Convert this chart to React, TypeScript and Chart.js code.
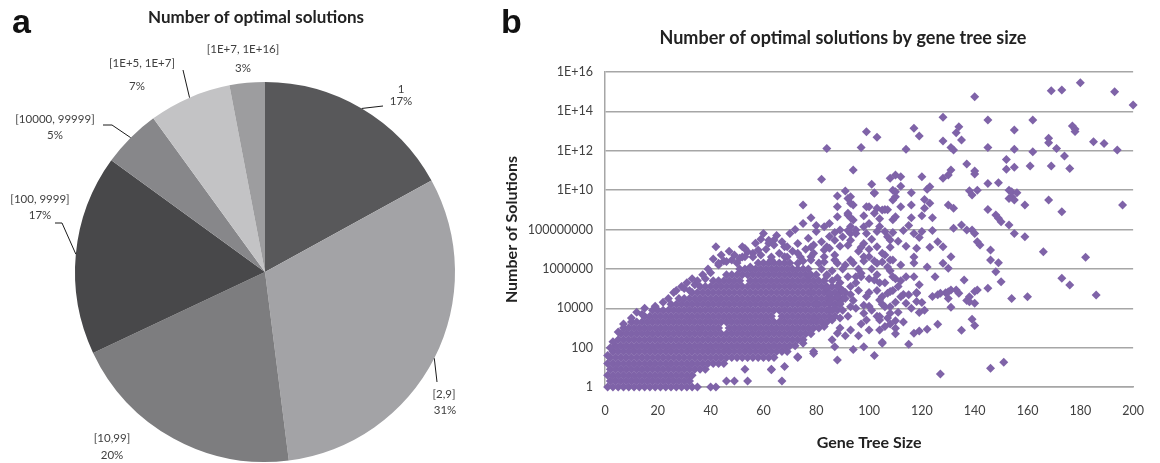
import React, { useEffect, useRef } from "react";
import { Chart, registerables } from "chart.js";

Chart.register(...registerables);

// ---------- Panel a: pie ----------
const PIE_TITLE = "Number of optimal solutions";
const PIE_LABELS = ["1", "[2,9]", "[10,99]", "[100, 9999]", "[10000, 99999]", "[1E+5, 1E+7]", "[1E+7, 1E+16]"];
const PIE_PERCENT = [17, 31, 20, 17, 5, 7, 3];
const PIE_COLORS = ["#58585a", "#a3a3a6", "#7d7d7f", "#48484a", "#87878a", "#c3c3c5", "#9d9d9f"];

// ---------- Panel b: scatter ----------
const SCATTER_TITLE = "Number of optimal solutions by gene tree size";
const X_TITLE = "Gene Tree Size";
const Y_TITLE = "Number of Solutions";
const X_TICKS = [0, 20, 40, 60, 80, 100, 120, 140, 160, 180, 200];
const Y_TICK_VALUES = [1, 1e2, 1e4, 1e6, 1e8, 1e10, 1e12, 1e14, 1e16];
const Y_TICK_LABELS = ["1", "100", "10000", "1000000", "100000000", "1E+10", "1E+12", "1E+14", "1E+16"];

// Dense core of the cloud: [log10(number of solutions), gene tree sizes in that row]
const CORE_ROWS: [number, number[]][] = [
  [0.0, [1,3,5,7,9,11,13,15,17,19,21,23,25,27,29,31,33,35,40,42]],
  [0.3, [2,4,6,8,10,12,14,16,18,20,22,24,26,28,30,32,46,49,54,67]],
  [0.6, [1,3,5,7,9,11,13,15,17,19,21,23,25,27,29,31,33]],
  [0.9, [2,4,6,8,10,12,14,16,18,20,22,24,26,28,30,32,34,36,38,53,63]],
  [1.2, [1,3,5,7,9,11,13,15,17,19,21,23,25,27,29,31,33,35,37,39,41,43,45]],
  [1.5, [2,4,6,8,10,12,14,16,18,20,22,24,26,28,30,32,34,36,38,40,42,44,46,48,50,52,54,56,58,60,62,64,73]],
  [1.8, [3,5,7,9,11,13,15,17,19,21,23,25,27,29,31,33,35,37,39,41,43,45,47,49,51,53,55,57,59,61,63,65,67,69,79]],
  [2.1, [4,6,8,10,12,14,16,18,20,22,24,26,28,30,32,34,36,38,40,42,44,46,48,50,52,54,56,58,60,62,64,66,68,70,72]],
  [2.4, [5,7,9,11,13,15,17,19,21,23,25,27,29,31,33,35,37,39,41,43,45,47,49,51,53,55,57,59,61,63,65,67,69,71,73,75]],
  [2.7, [6,8,10,12,14,16,18,20,22,24,26,28,30,32,34,36,38,40,42,44,46,48,50,52,54,56,58,60,62,64,66,68,70,72,74,76,78]],
  [3.0, [7,9,11,13,15,17,19,21,23,25,27,29,31,33,35,37,39,41,43,47,49,51,53,55,57,59,61,63,65,67,69,71,73,75,77,79,81]],
  [3.3, [10,12,14,16,18,20,22,24,26,28,30,32,34,36,38,40,42,44,46,48,50,52,54,56,58,60,62,64,66,68,70,72,74,76,78,80,82,84]],
  [3.6, [15,17,19,21,23,25,27,29,31,33,35,37,39,41,43,45,47,49,51,53,55,57,59,61,63,67,69,71,73,75,77,79,81,83,85,87]],
  [3.9, [20,22,24,26,28,30,32,34,36,38,40,42,44,46,48,50,52,54,56,58,60,62,64,66,68,70,72,74,76,78,80,82,84,86,88]],
  [4.2, [25,27,29,31,33,35,37,39,41,43,45,47,49,51,53,55,57,59,61,63,65,67,69,71,73,75,77,79,81,83,85,87,89]],
  [4.5, [28,30,32,34,36,38,40,42,44,46,48,50,52,54,56,58,60,62,64,66,68,70,72,74,76,78,80,82,84,86,88,90]],
  [4.8, [33,35,37,39,41,43,45,47,49,51,53,55,57,59,61,63,65,67,69,71,73,75,77,79,81,83,85,87,89]],
  [5.1, [36,38,40,42,44,46,48,50,52,54,56,58,60,62,64,66,68,70,72,74,76,78,80,82,84,86]],
  [5.4, [41,43,45,47,49,51,55,57,59,61,63,65,67,69,71,73,75,77,79,81,83]],
  [5.7, [46,48,50,52,54,56,58,60,62,64,66,68,70,72,74,76,78,80]],
  [6.0, [51,53,55,57,59,61,63,65,67,69,71,73,75,77]],
  [6.3, [58,60,62,64,66,68,70]],
];

// Scattered points: [gene tree size, log10(number of solutions)]
const FRINGE_POINTS: [number, number][] = [
  [1,1.6],[2,2.0],[3,2.3],[5,2.8],[7,3.2],[10,3.5],[14,3.7],[18,3.9],[22,4.3],[26,4.8],[29,5.1],[30,5.0],[32,4.9],
  [34,5.2],[35,5.4],[38,5.5],[40,5.8],[12,3.8],[15,4.0],[19,4.1],[24,4.5],[27,4.9],[31,5.3],[33,5.5],[37,5.7],
  [39,6.0],[43,6.2],[45,6.4],[49,6.7],[56,6.8],[61,7.0],[41,6.5],[44,6.7],[47,6.9],[50,6.3],[52,6.6],[57,7.3],
  [59,7.5],[65,7.7],[70,7.8],[72,8.0],[75,8.3],[78,8.6],[80,8.2],[56,6.6],[59,6.7],[63,6.6],[66,6.8],[69,6.6],
  [71,6.9],[74,6.6],[76,7.0],[79,6.8],[81,6.3],[82,6.0],[84,5.7],[86,5.4],[89,5.0],[91,4.8],
  [42,7.12],[60,7.8],[46,6.37],[51,6.54],[55,6.1],[53,7.04],[58,6.96],[62,7.3],[64,7.47],[68,7.13],[73,6.79],[78,6.62],[83,6.96],
  [52,7.12],[54,6.87],[62,7.46],[64,7.21],[67,7.38],[69,7.12],[73,7.29],[77,7.55],[79,7.21],[82,7.38],[84,7.12],[87,7.46],
  [43,6.28],[48,6.45],[53,6.62],[63,6.45],[68,6.62],[73,6.28],[78,6.45],[83,6.62],[88,6.28],[93,6.45],[98,6.62],[103,6.28],[108,6.45],
];

const MID_POINTS: [number, number][] = [
  [86,5.9],[89,5.3],[91,6.2],[90,4.9],[92,3.6],[94,4.4],[95,5.3],[96,6.0],[97,3.2],[99,4.6],[100,5.5],[101,3.9],[102,6.4],
  [103,4.9],[104,2.9],[106,5.3],[107,3.5],[108,5.9],[110,4.3],[111,5.1],[112,6.2],[113,3.3],[114,5.6],[116,4.0],[117,6.6],
  [119,5.2],[121,3.9],[122,6.1],[124,4.6],[125,5.6],[86,2.4],[89,3.0],[91,2.6],[94,1.9],[96,2.6],[100,2.9],[102,1.6],
  [90,3.9],[87,6.7],[92,7.2],[96,6.9],[101,7.5],[106,7.9],[111,7.4],[115,8.2],[119,7.6],
  [84,5.0],[85,4.3],[86,3.4],[87,4.0],[88,5.1],[89,3.5],[90,6.0],[91,4.5],[92,5.6],[93,2.9],[95,4.0],[96,4.9],[97,5.6],
  [99,3.4],[100,4.1],[101,6.0],[103,3.6],[104,5.3],[105,4.6],[106,6.7],[108,3.2],[109,4.9],[111,3.8],[112,5.4],
  [75,9.24],[82,10.55],[84,12.12],[94,11.02],[97,12.17],[99,12.97],[103,12.68],[101,10.3],[102,9.84],[108,10.6],[110,10.77],
  [112,10.68],[109,10.0],[112,10.2],[116,9.87],[122,10.04],[123,10.17],[121,9.53],[114,12.07],[117,13.14],[119,12.75],[120,10.68],
  [88,9.7],[91,9.95],[93,9.66],[93,9.33],[100,9.16],[103,9.08],[106,9.02],[110,9.66],[112,9.16],[116,9.24],[121,9.08],[123,9.33],
  [92,9.58],[94,9.24],[88,9.16],[102,9.87],[110,9.92],[107,9.0],[109,8.5],[109,9.5],
  [90,7.63],[93,7.8],[95,7.97],[98,8.14],[100,8.31],[88,8.65],[92,8.82],[94,8.48],[99,9.16],[102,8.82],[105,8.99],
  [83,8.14],[85,8.31],[89,7.97],[93,7.46],[98,7.29],[103,7.12],[107,7.63],
  [92,8.74],[85,7.64],[93,8.15],[99,7.8],[104,8.15],[108,7.47],[105,6.79],[100,6.62],
  [97,5.78],[102,5.44],[107,6.1],[109,5.6],[93,5.1],[88,4.6],[93,4.08],[98,3.74],[104,3.58],[108,4.08],[107,4.76],
  [85,3.91],[79,3.4],[83,3.07],[88,2.73],[87,2.05],[88,1.37],[98,2.05],[105,2.22],[75,2.22],[79,1.7],[73,1.54],[68,1.04],[63,0.87],
  [93,8.6],[98,8.7],[104,8.55],[110,8.65],[116,8.6],[120,8.7],[124,8.6],
  [80,7.9],[87,7.85],[92,7.95],[95,7.8],[103,7.9],[109,7.85],[113,7.95],[117,7.8],[120,7.9],[124,7.95],
  [78,7.1],[85,7.05],[89,7.15],[97,7.1],[100,7.0],[108,7.1],[114,7.15],[118,7.05],[123,7.1],
  [75,6.4],[83,6.35],[87,6.45],[94,6.3],[98,6.4],[105,6.35],[109,6.45],[117,6.3],
  [77,5.6],[84,5.65],[88,5.55],[95,5.6],[103,5.7],[110,5.5],[117,5.6],
  [78,4.8],[85,4.75],[93,4.7],[100,4.8],[108,4.85],[113,4.7],[118,4.8],
  [80,4.2],[89,4.25],[98,4.15],[105,4.2],[114,4.25],
  [127,0.66],[146,0.95],[151,1.26],[105,2.27],[115,2.17],[117,2.73],[119,2.85],[122,2.93],[126,3.19],[135,2.88],[139,3.44],
  [140,3.12],[131,4.05],[119,3.78],[110,3.37],[110,2.98],[110,2.7],[106,3.07],[104,3.4],[126,4.68],[129,4.79],[133,4.93],
  [137,4.39],[140,4.25],[140,4.85],[112,4.59],[115,4.68],[118,4.76],[118,4.34],[120,4.29],[108,3.74],[106,4.08],[104,4.42],
];

const TAIL_POINTS: [number, number][] = [
  [180,15.45],[169,15.05],[173,15.08],[193,15.0],[200,14.32],[140,14.74],[128,13.7],[145,13.56],[162,13.56],[177,13.26],
  [178,13.1],[178,12.98],[134,13.22],[133,12.92],[135,12.54],[128,12.49],[131,12.17],[132,12.04],[145,12.17],[155,13.05],
  [155,12.07],[162,11.95],[168,12.63],[168,12.41],[171,12.12],[174,11.73],[185,12.46],[189,12.37],[194,12.04],
  [128,10.6],[130,10.77],[131,11.02],[137,11.33],[140,10.82],[140,10.97],[152,11.56],[152,11.06],[155,11.16],[161,11.22],
  [169,11.22],[176,11.1],[138,9.97],[139,9.75],[141,10.0],[145,10.34],[149,10.38],[153,10.0],[154,9.92],[156,9.87],
  [154,9.66],[155,9.5],[153,9.58],[159,9.24],[168,9.5],[173,8.9],[196,9.24],[130,9.24],[132,9.08],
  [145,9.02],[148,8.74],[149,8.57],[150,8.4],[153,8.23],[159,7.63],[155,7.8],[166,6.87],[182,6.59],[173,5.52],[176,5.18],
  [186,4.67],[154,4.5],[160,4.59],[150,5.35],[145,5.01],[141,4.93],[136,5.43],[146,6.45],[149,6.31],[148,5.86],[146,6.96],
  [141,7.38],[142,7.21],[139,7.97],[140,7.8],[132,8.06],[135,8.23],[137,7.97],[134,4.76],[131,4.93],[127,4.76],[130,4.84],
  [130,6.03],[131,6.62],[128,6.28],[128,7.13],[126,7.38],[130,4.5],[138,4.59],[138,4.33],
];

const PURPLE = "#7f63a8";
const TEXT = "#404040";
const FONT = "Lato, 'Open Sans', sans-serif";

const figTextPlugin = {
  id: "figText",
  afterDraw(chart: any, _a: any, opts: any) {
    const ctx = chart.ctx;
    for (const it of opts.items || []) {
      ctx.save();
      ctx.font = it.font;
      ctx.fillStyle = it.color;
      ctx.textAlign = it.align || "center";
      ctx.textBaseline = it.baseline || "middle";
      ctx.fillText(it.text, it.x, it.y);
      ctx.restore();
    }
  },
};

const pieLabelPlugin = {
  id: "pieLabels",
  afterDraw(chart: any, _a: any, opts: any) {
    const ctx = chart.ctx;
    const meta = chart.getDatasetMeta(0);
    meta.data.forEach((arc: any, i: number) => {
      const cfg = opts.items[i];
      const { x, y, startAngle, endAngle, outerRadius } = arc.getProps(
        ["x", "y", "startAngle", "endAngle", "outerRadius"], true);
      const mid = (startAngle + endAngle) / 2;
      ctx.save();
      if (cfg.path && cfg.path.length) {
        ctx.beginPath();
        ctx.moveTo(x + Math.cos(mid) * outerRadius, y + Math.sin(mid) * outerRadius);
        for (const [px, py] of cfg.path) ctx.lineTo(px, py);
        ctx.strokeStyle = "#1a1a1a";
        ctx.lineWidth = 1;
        ctx.stroke();
      }
      ctx.font = `11.5px ${FONT}`;
      ctx.fillStyle = TEXT;
      ctx.textAlign = "center";
      ctx.textBaseline = "middle";
      const lines = [PIE_LABELS[i], `${PIE_PERCENT[i]}%`];
      lines.forEach((t, j) => ctx.fillText(t, cfg.pos[j][0], cfg.pos[j][1]));
      ctx.restore();
    });
  },
};

function buildScatterPoints() {
  const pts: { x: number; y: number }[] = [];
  for (const [e, xs] of CORE_ROWS) for (const x of xs) pts.push({ x, y: 10 ** e });
  for (const list of [FRINGE_POINTS, MID_POINTS, TAIL_POINTS])
    for (const [x, e] of list) pts.push({ x, y: 10 ** e });
  return pts;
}

export default function App() {
  const pieRef = useRef<HTMLCanvasElement>(null);
  const scRef = useRef<HTMLCanvasElement>(null);

  useEffect(() => {
    const pie = new Chart(pieRef.current!, {
      type: "pie",
      data: {
        labels: PIE_LABELS,
        datasets: [{ data: PIE_PERCENT, backgroundColor: PIE_COLORS, borderWidth: 0 }],
      },
      options: {
        animation: false,
        responsive: false,
        layout: { padding: { left: 30, right: 0, top: 82, bottom: 1 } },
        plugins: {
          legend: { display: false },
          tooltip: { enabled: false },
          figText: {
            items: [
              { text: "a", x: 12, y: 33, font: "bold 34px 'Liberation Sans', Arial, sans-serif", color: "#111", align: "left", baseline: "alphabetic" },
              { text: PIE_TITLE, x: 256, y: 18, font: `bold 17px ${FONT}`, color: "#222" },
            ],
          },
          pieLabels: {
            items: [
              { pos: [[401, 89], [401, 101]], path: [[383, 106]] },
              { pos: [[444, 394], [445, 410]], path: [[437, 382]] },
              { pos: [[112, 438], [112, 455]], path: [] },
              { pos: [[40, 199], [40, 215]], path: [[62, 223], [55, 223]] },
              { pos: [[55, 119], [55, 135]], path: [[112, 125], [103, 125]] },
              { pos: [[142, 63], [137, 86]], path: [[183, 70]] },
              { pos: [[243, 49], [243, 68]], path: [] },
            ],
          },
        } as any,
      },
      plugins: [figTextPlugin, pieLabelPlugin],
    });

    const sc = new Chart(scRef.current!, {
      type: "scatter",
      data: {
        datasets: [{
          data: buildScatterPoints(),
          pointStyle: "rectRot",
          pointRadius: 4.5,
          pointBackgroundColor: PURPLE,
          pointBorderWidth: 0,
          clip: false as any,
        }],
      },
      options: {
        animation: false,
        responsive: false,
        layout: { padding: { left: 0, right: 15, top: 72, bottom: 0 } },
        plugins: {
          legend: { display: false },
          tooltip: { enabled: false },
          figText: {
            items: [
              { text: "b", x: 1, y: 33, font: "bold 34px 'Liberation Sans', Arial, sans-serif", color: "#111", align: "left", baseline: "alphabetic" },
              { text: SCATTER_TITLE, x: 343, y: 38, font: `bold 18px ${FONT}`, color: "#222" },
            ],
          },
        } as any,
        scales: {
          x: {
            type: "linear",
            min: 0,
            max: 200,
            afterBuildTicks: (s: any) => { s.ticks = X_TICKS.map((v) => ({ value: v })); },
            afterFit: (s: any) => { s.height = 76; },
            ticks: { padding: 16, color: TEXT, font: { size: 12.5, family: FONT } },
            grid: { display: false, drawTicks: false },
            border: { display: true, color: "#a6a6a6", width: 1.5 },
            title: { display: true, text: X_TITLE, color: "#222", font: { size: 16, weight: "bold", family: FONT }, padding: { top: 0, bottom: 11 } },
          },
          y: {
            type: "logarithmic",
            min: 1,
            max: 1e16,
            afterBuildTicks: (s: any) => { s.ticks = Y_TICK_VALUES.map((v) => ({ value: v })); },
            afterFit: (s: any) => { s.width = 105; },
            ticks: {
              padding: 12,
              color: TEXT,
              font: { size: 12.5, family: FONT },
              callback: (v: any) => {
                const i = Y_TICK_VALUES.indexOf(Number(v));
                return i >= 0 ? Y_TICK_LABELS[i] : "";
              },
            },
            grid: { color: "#a6a6a6", lineWidth: 1.5, drawTicks: false },
            border: { display: true, color: "#a6a6a6", width: 1.5 },
            title: { display: true, text: Y_TITLE, color: "#222", font: { size: 16, weight: "bold", family: FONT }, padding: { top: 2, bottom: 0 } },
          },
        },
      },
      plugins: [figTextPlugin],
    });

    return () => { pie.destroy(); sc.destroy(); };
  }, []);

  return (
    <div style={{ position: "absolute", left: 0, top: 0, width: 1160, height: 463, background: "#fff", overflow: "hidden" }}>
      <canvas ref={pieRef} width={500} height={463} style={{ position: "absolute", left: 0, top: 0, width: 500, height: 463 }} />
      <canvas ref={scRef} width={660} height={463} style={{ position: "absolute", left: 500, top: 0, width: 660, height: 463 }} />
    </div>
  );
}
